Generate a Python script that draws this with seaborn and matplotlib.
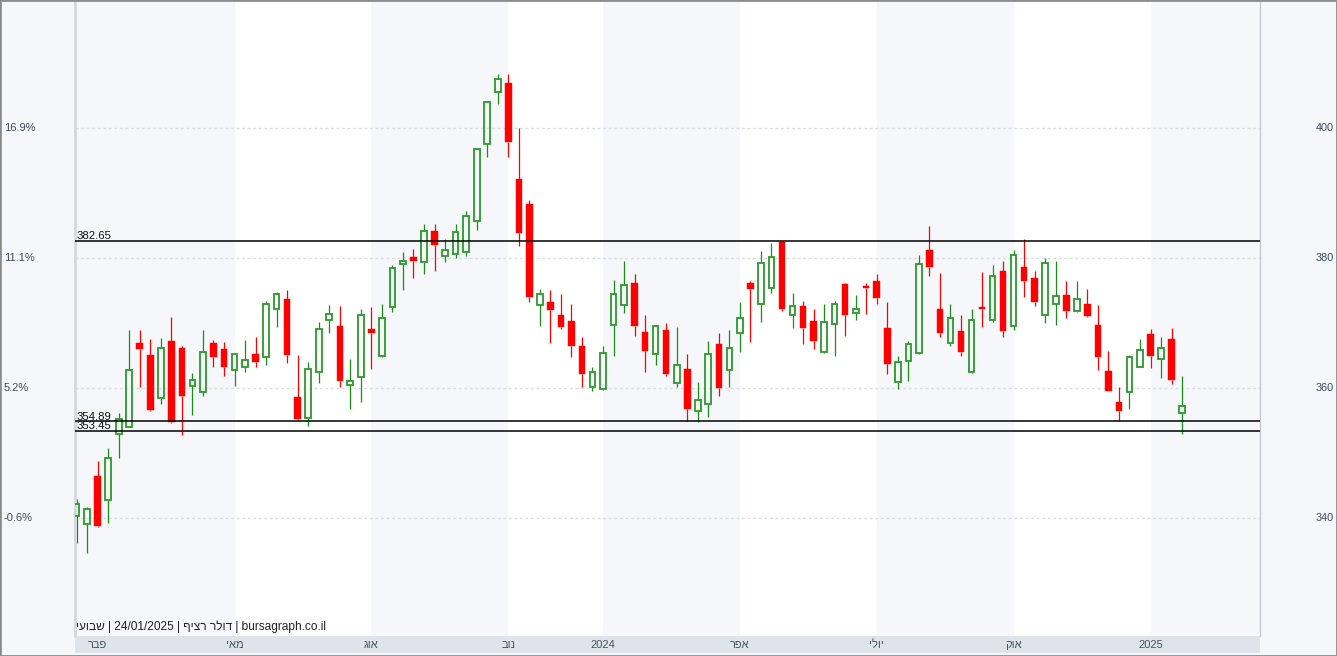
import matplotlib
matplotlib.use("Agg")
import matplotlib.pyplot as plt
import matplotlib.transforms as mtransforms
from matplotlib.patches import Rectangle
import numpy as np
import pandas as pd
import seaborn as sns

# ---------------- data (weekly candles, USD/ILS continuous, x100) ----------------
opens = [340.3, 339.1, 346.5, 342.8, 352.9, 354.05, 367.0, 365.1, 358.5, 367.2,
         366.2, 360.3, 359.4, 366.9, 365.95, 362.8, 363.2, 365.2, 364.7, 372.2,
         373.7, 358.6, 355.4, 362.5, 370.4, 369.5, 360.4, 361.7, 369.1, 364.9,
         372.5, 379.1, 380.2, 379.4, 384.2, 380.3, 380.6, 380.9, 385.7, 397.6,
         405.5, 406.9, 392.2, 388.3, 372.7, 373.2, 371.2, 370.3, 366.5, 360.15,
         359.8, 369.7, 372.8, 376.1, 368.6, 365.2, 368.9, 360.8, 362.9, 356.4,
         357.5, 366.7, 362.8, 368.5, 376.1, 373.0, 375.4, 382.5, 371.3, 372.6,
         370.3, 365.5, 369.8, 376.0, 371.5, 375.65, 376.5, 369.2, 360.9, 364.2,
         365.4, 381.3, 372.1, 367.0, 368.7, 362.4, 372.4, 370.5, 378.0, 369.5,
         378.6, 376.9, 371.2, 372.9, 374.3, 371.8, 372.9, 369.65, 362.6, 357.8,
         359.4, 363.3, 368.3, 364.5, 367.5, 356.2]
highs = [342.9, 341.7, 348.7, 350.7, 356.1, 369.0, 368.9, 367.5, 367.65, 371.0,
         366.5, 362.3, 369.0, 367.4, 367.1, 365.3, 367.4, 367.9, 373.4, 374.7,
         375.1, 365.1, 363.95, 370.2, 372.7, 372.6, 364.5, 372.2, 372.4, 372.9,
         378.9, 380.9, 381.4, 385.3, 385.2, 382.9, 385.2, 387.2, 396.9, 404.1,
         408.3, 408.3, 400.0, 388.9, 375.2, 375.1, 374.5, 373.0, 367.8, 363.2,
         366.5, 376.6, 379.5, 377.6, 371.2, 369.7, 369.95, 369.4, 365.2, 360.9,
         367.2, 368.5, 369.0, 373.2, 376.5, 381.1, 382.3, 382.6, 374.6, 373.4,
         372.1, 372.9, 373.4, 376.2, 374.3, 376.2, 377.5, 373.2, 364.9, 367.2,
         380.5, 384.9, 377.7, 372.9, 371.2, 372.1, 377.8, 378.9, 379.5, 381.2,
         382.9, 378.0, 380.0, 379.5, 376.5, 376.5, 375.2, 372.8, 365.7, 360.1,
         365.1, 367.5, 369.1, 367.8, 369.3, 361.8]
lows = [336.2, 334.6, 338.6, 339.2, 349.2, 354.0, 360.2, 356.4, 357.5, 354.6,
        352.8, 355.8, 358.8, 363.2, 361.8, 360.3, 362.4, 363.2, 363.5, 369.4,
        363.9, 355.1, 354.2, 360.7, 368.5, 360.1, 356.7, 357.9, 362.9, 364.8,
        371.7, 375.1, 377.0, 377.6, 378.0, 379.4, 380.0, 380.3, 384.3, 395.6,
        403.7, 395.6, 381.9, 373.3, 369.6, 366.9, 369.1, 364.7, 360.2, 359.6,
        359.7, 365.0, 371.6, 368.05, 362.5, 363.5, 361.9, 360.2, 355.0, 354.7,
        355.5, 358.7, 360.2, 365.6, 367.1, 370.2, 374.6, 371.9, 369.2, 366.7,
        366.05, 365.4, 365.0, 368.05, 370.4, 371.4, 372.9, 362.2, 359.9, 361.1,
        365.3, 377.3, 367.9, 366.4, 365.0, 362.3, 369.4, 370.1, 367.9, 369.0,
        374.05, 372.6, 370.05, 369.7, 370.8, 371.65, 371.0, 362.7, 359.5, 354.9,
        356.7, 363.2, 363.1, 361.6, 360.6, 352.9]
closes = [342.1, 341.4, 338.7, 349.3, 355.2, 362.7, 366.0, 356.6, 366.2, 354.7,
          358.7, 361.3, 365.6, 364.7, 363.3, 365.2, 364.3, 364.05, 372.9, 374.4,
          365.1, 355.2, 363.0, 369.1, 371.4, 361.1, 361.1, 371.2, 368.5, 370.7,
          378.5, 379.6, 379.6, 384.2, 382.0, 381.3, 384.05, 386.4, 396.8, 404.05,
          407.5, 397.9, 383.9, 374.05, 374.5, 372.0, 369.4, 366.4, 362.2, 362.5,
          365.4, 374.5, 375.9, 369.6, 365.7, 369.6, 362.1, 363.6, 356.8, 358.2,
          365.3, 360.05, 366.2, 370.8, 375.3, 379.3, 380.2, 372.2, 372.6, 369.3,
          367.2, 370.2, 373.0, 371.3, 372.2, 375.45, 373.9, 363.7, 364.05, 366.7,
          379.1, 378.6, 368.4, 370.8, 365.6, 370.5, 372.1, 377.2, 368.7, 380.4,
          376.4, 373.3, 379.3, 374.15, 371.8, 373.7, 371.1, 364.8, 359.6, 356.5,
          364.8, 365.9, 365.0, 366.2, 361.3, 357.2]

month_idx = [2, 15, 28, 41, 50, 63, 76, 89, 102]
month_labels = ["פבר", "מאי", "אוג", "נוב", "2024", "אפר", "יולי", "אוק", "2025"]
level_values = [382.65, 354.89, 353.45]
price_ticks = [340, 360, 380, 400]
caption = "bursagraph.co.il | דולר רציף | 24/01/2025 | שבועי"


def rtl(s):
    """Visual order for a right-to-left (Hebrew) run, since matplotlib draws left to right."""
    return s[::-1] if any("\u0590" <= ch <= "\u05FF" for ch in s) else s


caption_vis = " | ".join(rtl(p) for p in reversed(caption.split(" | ")))

df = pd.DataFrame({"open": opens, "high": highs, "low": lows, "close": closes})
df["idx"] = np.arange(len(df))
df["up"] = df["close"] >= df["open"]
base = df["close"].iloc[0]

# ---------------- style ----------------
sns.set_style("white")
plt.rcParams["font.family"] = ["Liberation Sans", "DejaVu Sans"]

W, H = 1337, 656
fig = plt.figure(figsize=(W / 100, H / 100), dpi=100, facecolor="#f5f7fa")
ax = fig.add_axes([75 / W, 20 / H, 1185 / W, 636 / H])
ax.set_facecolor("white")
xmin, xmax = -0.15, 112.4
ax.set_xlim(xmin, xmax)
ax.set_ylim(321.85, 419.7)

# alternating quarter bands
band_edges = [xmin] + month_idx[1:] + [xmax]
for k in range(len(band_edges) - 1):
    if k % 2 == 0:
        ax.axvspan(band_edges[k], band_edges[k + 1], color="#f5f7fa", lw=0, zorder=0)

# dotted grid at price ticks
for v in price_ticks:
    ax.axhline(v, color="#d9dde2", lw=1.0, ls=(0, (2, 2)), zorder=1)

# candles
green_edge = "#2a9a2a"
green_wick = "#1a8c1a"
red = "#ff0000"
for _, r in df.iterrows():
    lo_b, hi_b = min(r.open, r.close), max(r.open, r.close)
    wc = green_wick if r.up else red
    ax.vlines(r.idx, r.low, lo_b, color=wc, lw=0.9, zorder=2)
    ax.vlines(r.idx, hi_b, r.high, color=wc, lw=0.9, zorder=2)
    h = max(hi_b - lo_b, 0.15)
    if r.up:
        ax.bar(r.idx, h, bottom=lo_b, width=0.54, facecolor="none",
               edgecolor=green_edge, lw=1.3, zorder=3)
    else:
        ax.bar(r.idx, h, bottom=lo_b, width=0.62, facecolor=red,
               edgecolor=red, lw=0.3, zorder=3)

# support / resistance levels
blend = mtransforms.blended_transform_factory(ax.transAxes, ax.transData)
blend_up = mtransforms.offset_copy(blend, fig=fig, y=1.5, units="dots")
for v in level_values:
    ax.axhline(v, color="black", lw=1.1, zorder=4)
    ax.text(0.001, v, f"{v:.2f}", transform=blend_up, ha="left", va="baseline",
            fontsize=8.2, color="#111111", zorder=5)

# axes cosmetics
ax.set_yticks([])
ax.set_xticks(month_idx, labels=[rtl(m) for m in month_labels])
ax.tick_params(axis="x", length=0, pad=3.0, labelsize=8.0, colors="#4a5260")
for side in ("top", "bottom"):
    ax.spines[side].set_visible(False)
ax.spines["left"].set_color("#d3d8df")
ax.spines["left"].set_linewidth(2.0)
ax.spines["right"].set_color("#c5cad2")
ax.spines["right"].set_linewidth(1.0)

# x-axis label band
ax.add_patch(Rectangle((0, -17 / 636), 1, 17 / 636, transform=ax.transAxes,
                       facecolor="#dfe3ea", edgecolor="none", clip_on=False, zorder=0))

# side labels: percent change (left) and price (right)
left_tr = mtransforms.blended_transform_factory(fig.transFigure, ax.transData)
for v in price_ticks:
    pct = (v / base - 1) * 100
    fig.text(4 / W, v, f"{pct:.1f}%", transform=left_tr, ha="left", va="center",
             fontsize=8.0, color="#3b4a5e")
    fig.text(1334 / W, v, f"{v}", transform=left_tr, ha="right", va="center",
             fontsize=7.8, color="#3b4a5e")

# caption
fig.text(76 / W, 1 - 627 / H, caption_vis, ha="left", va="center",
         fontsize=8.6, color="#222222")

# outer frame
fig.add_artist(Rectangle((0, 0), 1, 1, transform=fig.transFigure, fill=False,
                         edgecolor="#8c8c8c", lw=2.0))

fig.savefig("out.png", dpi=100, facecolor=fig.get_facecolor())
